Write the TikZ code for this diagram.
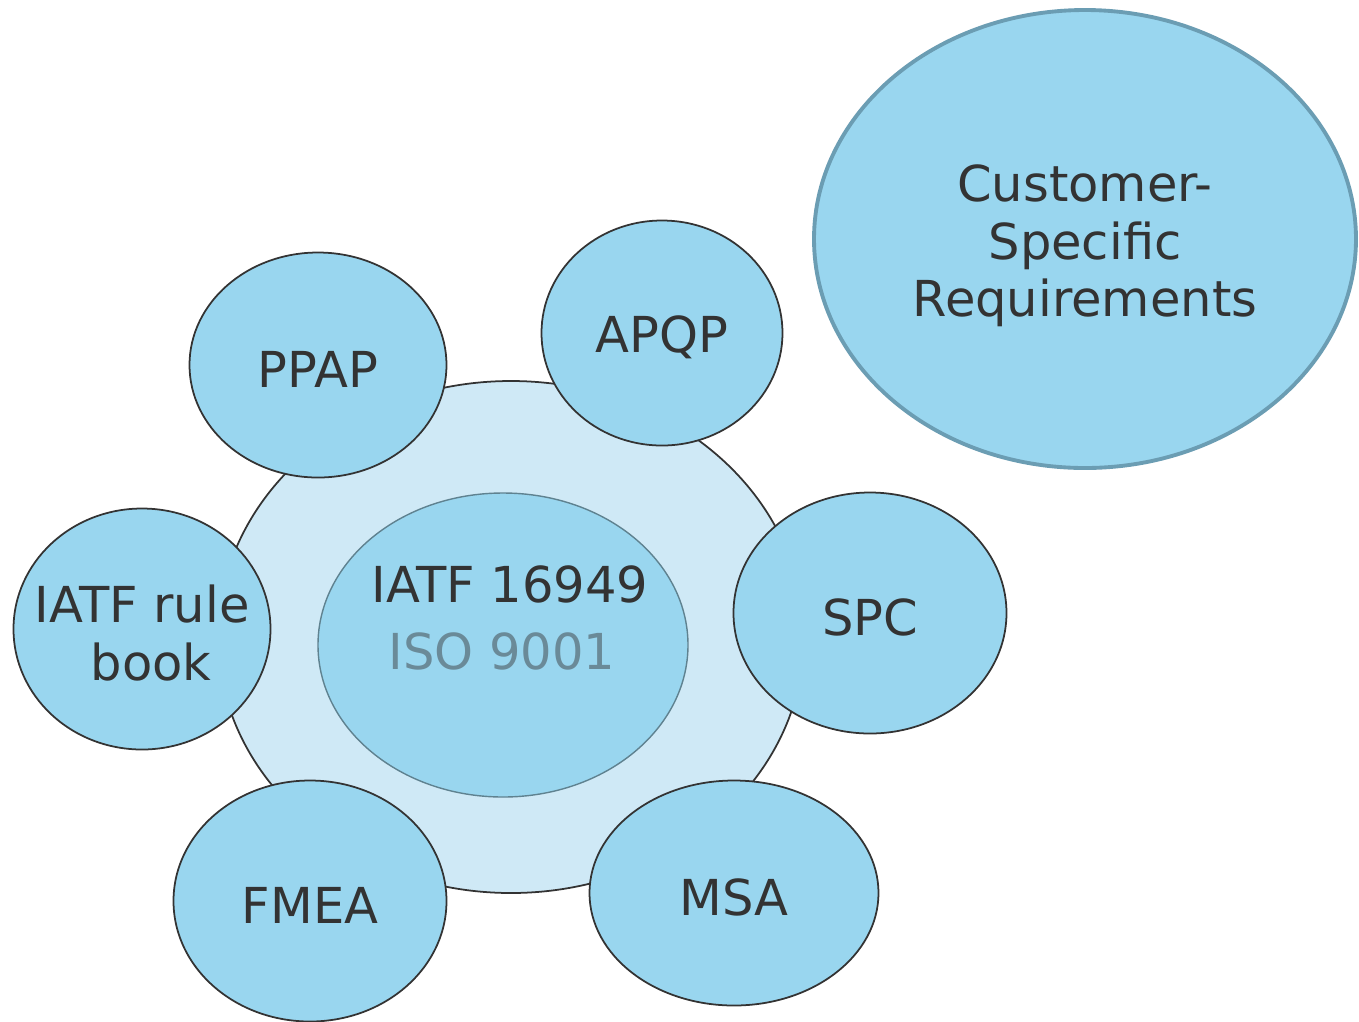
\documentclass[tikz,border=0pt]{standalone}
\usepackage{fontspec}
\setmainfont{DejaVu Sans}
\usetikzlibrary{shapes.geometric}
\definecolor{ringfill}{HTML}{CFE9F6}
\definecolor{blobfill}{HTML}{99D6EF}
\definecolor{inkgray}{HTML}{333333}
\definecolor{isogray}{HTML}{6A8A98}
\definecolor{isoline}{HTML}{5F8290}
\definecolor{csrline}{HTML}{6B9DB3}
\begin{document}
\begin{tikzpicture}[line join=round, line cap=round]

		\tikzset{blob/.style={ellipse, draw=inkgray, line width=.5pt, fill=blobfill, inner sep=0pt},
			txt/.style={font=\fontsize{14.1}{16.3}\selectfont, text=inkgray, align=center, yshift=-.04cm}}

		\useasboundingbox (0,0) rectangle (13.59,-10.21);
		% ring and core
		\node[blob, fill=ringfill, minimum width=5.86cm, minimum height=5.12cm] (ring) at (5.11,-6.37) {};
		\node[blob, draw=isoline, line width=.4pt, minimum width=3.70cm, minimum height=3.04cm] (core) at (5.03,-6.45) {};
		\node[txt, font=\fontsize{14.1}{19}\selectfont] (coretext) at (5.10,-6.14) {IATF 16949\\\textcolor{isogray}{ISO 9001}\hspace*{.16cm}};
		% tools around the ring
		\node[blob, minimum width=2.57cm, minimum height=2.25cm, label={[txt]center:PPAP}] (ppap) at (3.18,-3.65) {};
		\node[blob, minimum width=2.41cm, minimum height=2.25cm, label={[txt]center:APQP}] (apqp) at (6.62,-3.33) {};
		\node[blob, minimum width=2.73cm, minimum height=2.41cm, label={[txt]center:SPC}] (spc) at (8.70,-6.13) {};
		\node[blob, minimum width=2.89cm, minimum height=2.25cm, label={[txt]center:MSA}] (msa) at (7.34,-8.93) {};
		\node[blob, minimum width=2.73cm, minimum height=2.41cm, label={[txt]center:FMEA}] (fmea) at (3.10,-9.01) {};
		\node[blob, minimum width=2.57cm, minimum height=2.41cm, label={[txt]center:{IATF rule\\\hspace*{.18cm}book}}] (rulebook) at (1.42,-6.29) {};
		% customer specific
		\node[blob, draw=csrline, line width=1.1pt, minimum width=5.42cm, minimum height=4.58cm, label={[txt, yshift=-.03cm]center:{Customer-\\Specific\\Requirements}}] (csr) at (10.85,-2.39) {};
	\end{tikzpicture}
\end{document}
